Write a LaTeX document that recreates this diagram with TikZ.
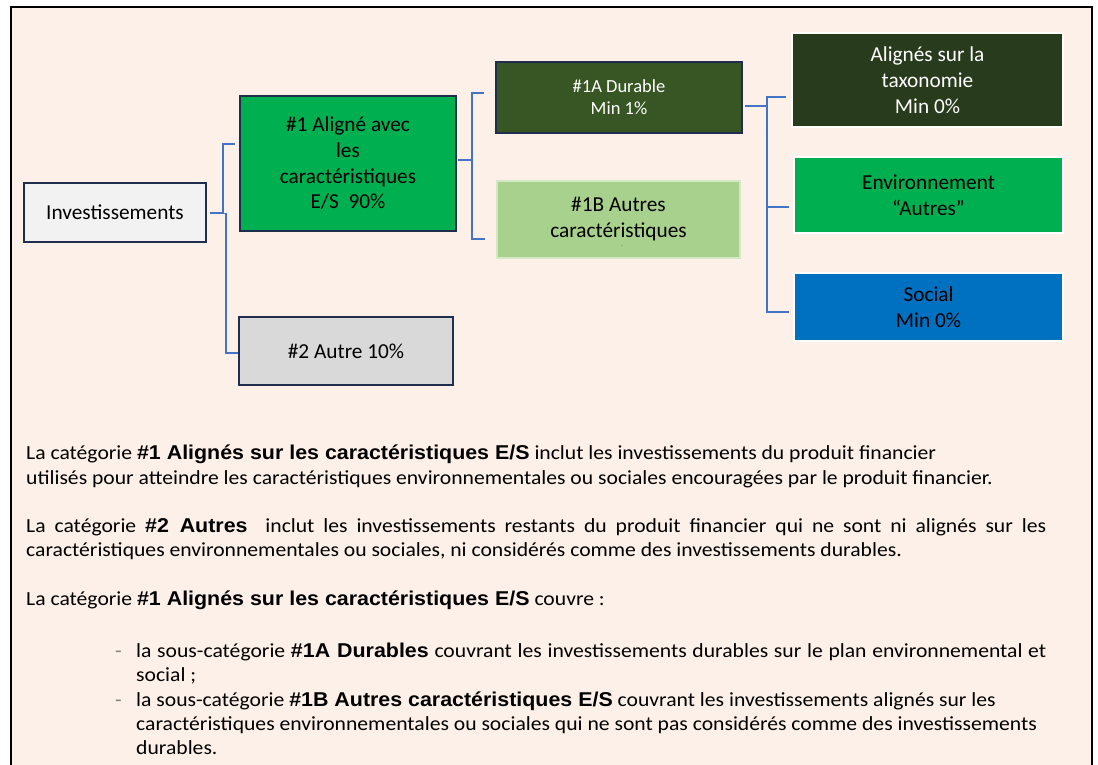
\documentclass[tikz,border=0pt]{standalone}
\usepackage{fontspec}
\setmainfont{Carlito}
\newfontfamily\parfont{Carlito}[FakeStretch=1.082]
\newfontfamily\boldfont{Liberation Sans}[FakeStretch=1.07]
\usetikzlibrary{calc}
\definecolor{bgc}{HTML}{FDF0E8}
\definecolor{navy}{HTML}{1F2E4E}
\definecolor{conn}{HTML}{4472C4}
\definecolor{grn}{HTML}{00B050}
\definecolor{olive}{HTML}{375623}
\definecolor{dkgrn}{HTML}{283B1C}
\definecolor{ltgrn}{HTML}{A9D18E}
\definecolor{blu}{HTML}{0070C0}
\definecolor{ltgray}{HTML}{F2F2F2}
\definecolor{mdgray}{HTML}{D9D9D9}
\definecolor{dashc}{HTML}{7F7F7F}
\newcommand{\bph}[1]{{\boldfont\bfseries #1}}
\begin{document}
\begin{tikzpicture}[x=1pt,y=-1pt,
  box/.style={draw=navy,line width=2pt,align=center,inner sep=0pt,font=\fontsize{21.3}{25.7}\selectfont},
  pale/.style={draw=white,line width=2pt,align=center,inner sep=0pt,font=\fontsize{21.3}{25.7}\selectfont},
  link/.style={draw=conn,line width=1.2pt},
  txt/.style={anchor=base west,inner sep=0pt,font=\parfont\fontsize{20}{24.5}\selectfont},
  dashmark/.style={anchor=base west,inner sep=0pt,text=dashc,font=\parfont\fontsize{20}{24.5}\selectfont}]
\useasboundingbox (0,0) rectangle (1098,764);
\fill[white] (0,0) rectangle (1098,764);
\fill[bgc] (11,7) rectangle (1092,780);
\draw[black,line width=2.5pt] (11,780) -- (11,7) -- (1092,7) -- (1092,780);

% boxes
\node[box,fill=ltgray,minimum width=182pt,minimum height=59pt] (inv) at (115,212.5) {Investissements};
\node[box,fill=grn,minimum width=216pt,minimum height=135pt] (a1) at (348,163.5) {\#1 Aligné avec\\les\\caractéristiques\\E/S\ \ 90\%};
\node[box,fill=mdgray,minimum width=214pt,minimum height=68pt] (a2) at (346,351) {\#2 Autre 10\%};
\node[box,fill=olive,text=white,minimum width=246pt,minimum height=71pt,font=\fontsize{18.5}{22}\selectfont] (b1) at (619,97.5) {\#1A Durable\\Min 1\%};
\node[pale,draw=ltgrn!50!white,line width=1.2pt,fill=ltgrn,minimum width=243pt,minimum height=77pt,text depth=4pt] (b2) at (618.5,219.5) {\#1B Autres\\caractéristiques};
\node[inner sep=0pt,font=\fontsize{5}{5}\selectfont] (dot) at (622,246.5) {.};
\node[pale,fill=dkgrn,text=white,minimum width=271pt,minimum height=94pt] (c1) at (927.5,80) {Alignés sur la\\taxonomie\\Min 0\%};
\node[pale,fill=grn,minimum width=269pt,minimum height=76pt] (c2) at (928.5,195) {Environnement\\“Autres”};
\node[pale,fill=blu,minimum width=269pt,minimum height=68pt] (c3) at (928.5,307) {Social\\Min 0\%};

% connectors
\draw[link] ($(inv.east)+(3,0)$) -- ++(13,0) |- ($(a1.west)+(-4,-19.5)$);
\draw[link] ($(inv.east)+(3,1)$) -- ++(16,0) |- ($(a2.west)+(0,2)$);
\draw[link] ($(a1.east)+(1,-3.5)$) -- ++(14,0) coordinate (j1) |- ($(b1.west)+(-11,-4.5)$);
\draw[link] (j1) |- ($(b2.west)+(-11,19.5)$);
\draw[link] ($(b1.east)+(2,8.5)$) -- ++(22,0) coordinate (j2) |- ($(c1.west)+(-5,17)$);
\draw[link] (j2) |- ($(c2.west)+(-4,12)$);
\draw[link] (j2) |- ($(c3.west)+(-4,5)$);

% text
\node[txt] (t1) at (26,459) {La catégorie \bph{\#1 Alignés sur les caractéristiques E/S} inclut les investissements du produit financier};
\node[txt] (t2) at (26,484) {utilisés pour atteindre les caractéristiques environnementales ou sociales encouragées par le produit financier.};
\node[txt] (t3) at (26,532) {\hbox to 1020pt{La catégorie \bph{\#2 Autres}\ \ inclut les investissements restants du produit financier qui ne sont ni alignés sur les}};
\node[txt] (t4) at (26,556) {caractéristiques environnementales ou sociales, ni considérés comme des investissements durables.};
\node[txt] (t5) at (26,605) {La catégorie \bph{\#1 Alignés sur les caractéristiques E/S} couvre :};
\node[dashmark] (d1) at (115,657) {-};
\node[txt] (t6) at (136,657) {\hbox to 910pt{la sous-catégorie \bph{\#1A Durables} couvrant les investissements durables sur le plan environnemental et}};
\node[txt] (t7) at (136,681) {social ;};
\node[dashmark] (d2) at (115,706) {-};
\node[txt] (t8) at (136,706) {la sous-catégorie \bph{\#1B Autres caractéristiques E/S} couvrant les investissements alignés sur les};
\node[txt] (t9) at (136,730) {caractéristiques environnementales ou sociales qui ne sont pas considérés comme des investissements};
\node[txt] (t10) at (136,754) {durables.};
\end{tikzpicture}
\end{document}
